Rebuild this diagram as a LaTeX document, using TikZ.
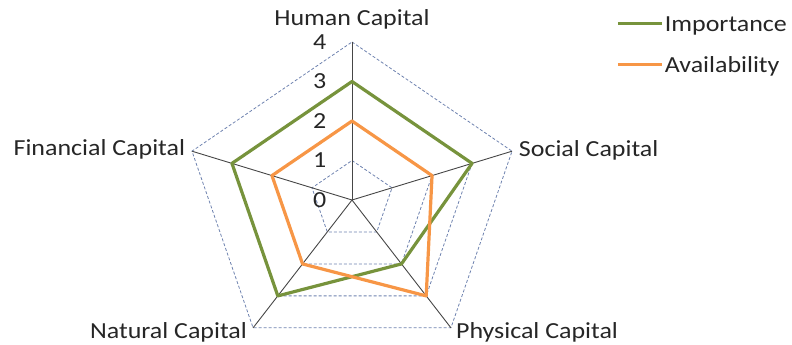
\documentclass[tikz,border=0pt]{standalone}
\usepackage{fontspec}
\setmainfont{Carlito}
\definecolor{impgreen}{RGB}{119,147,60}
\definecolor{avorange}{RGB}{247,150,70}
\definecolor{gridblue}{RGB}{110,130,175}
\definecolor{axisgray}{RGB}{70,70,70}

\begin{document}
\begin{tikzpicture}
  [xscale=1.065,x=1pt,y=1pt,transform shape,
   every node/.style={font=\fontsize{23}{26}\selectfont,text=black!85,inner sep=0pt,xscale=1.06},
   ring/.style={gridblue,dash pattern=on 3pt off 2pt,line width=.8pt},
   spoke/.style={axisgray,line width=.9pt},
   series/.style={line width=3.2pt,line join=round}]
  \useasboundingbox (-330.5,-144) rectangle (413.1,200);

  \coordinate (o) at (0,0);
  \foreach \i/\a in {1/90,2/18,3/-54,4/-126,5/162}
    \coordinate (v\i) at (\a:158);

  % grid and spokes
  \foreach \r in {1,2,3,4}
    \draw [ring] ({90}:{39.5*\r}) -- ({18}:{39.5*\r}) -- ({-54}:{39.5*\r})
      -- ({-126}:{39.5*\r}) -- ({162}:{39.5*\r}) -- cycle;
  \foreach \i in {1,...,5}
    \draw [spoke] (o) -- (v\i);

  \foreach \k in {0,...,4}
    \node [anchor=east] (t\k) at (-24,39.5*\k) {\k};

  % axis labels
  \node [anchor=base] (hc) at (0,174) {Human Capital};
  \node [anchor=base west] (sc) at (156.5,44) {Social Capital};
  \node [anchor=base west] (pc) at (97.5,-138) {Physical Capital};
  \node [anchor=base east] (nc) at (-98.5,-138) {Natural Capital};
  \node [anchor=base east] (fc) at (-156.5,45) {Financial Capital};

  % series
  \foreach \i/\a/\v/\w in {1/90/3/2,2/18/3/2,3/-54/2/3,4/-126/3/2,5/162/3/2}{
    \coordinate (imp\i) at ({\a}:{39.5*\v});
    \coordinate (av\i) at ({\a}:{39.5*\w});
  }
  \draw [series,impgreen] (imp1) -- (imp2) -- (imp3) -- (imp4) -- (imp5) -- cycle;
  \draw [series,avorange] (av1) -- (av2) -- (av3) -- (av4) -- (av5) -- cycle;

  % legend
  \coordinate (k1a) at (249.5,176);
  \coordinate (k1b) at (291,176);
  \coordinate (k2a) at (249.5,135);
  \coordinate (k2b) at (291,135);
  \draw [impgreen,line width=3pt] (k1a) -- (k1b);
  \draw [avorange,line width=3pt] (k2a) -- (k2b);
  \node [anchor=base west] (leg1) at (293.5,168.5) {Importance};
  \node [anchor=base west] (leg2) at (293.5,127.5) {Availability};
\end{tikzpicture}
\end{document}
